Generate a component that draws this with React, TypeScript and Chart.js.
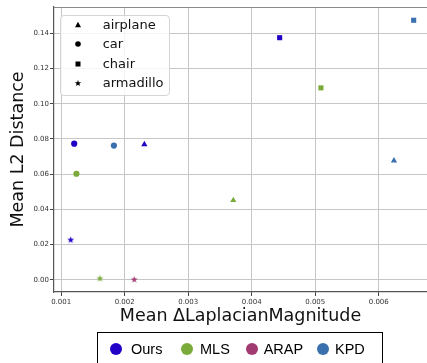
import React, { useEffect, useRef } from 'react';
import { Chart, registerables } from 'chart.js';
Chart.register(...registerables);

// Categories (marker shapes) in order: airplane, car, chair, armadillo
const categories = ['airplane', 'car', 'chair', 'armadillo'];
const methods = ['Ours', 'MLS', 'ARAP', 'KPD'];
const methodColors = ['#2300c8', '#7aab3a', '#a23a72', '#3b70ae'];

// Values per category (null = not drawn)
const oursX = [0.00231, 0.001205, 0.00444, 0.00115];
const oursY = [0.0769, 0.0773, 0.1375, 0.0227];
const mlsX = [0.00371, 0.00124, 0.00509, 0.00161];
const mlsY = [0.0451, 0.0602, 0.109, 0.0008];
const arapX = [null, null, null, 0.00215];
const arapY = [null, null, null, 0.0002];
const kpdX = [0.00624, 0.00183, 0.00655, null];
const kpdY = [0.0676, 0.0762, 0.1474, null];

const xTicks = [0.001, 0.002, 0.003, 0.004, 0.005, 0.006];
const yTicks = [0.0, 0.02, 0.04, 0.06, 0.08, 0.1, 0.12, 0.14];

const seriesX = [oursX, mlsX, arapX, kpdX];
const seriesY = [oursY, mlsY, arapY, kpdY];

function makeStar(color: string, size = 9) {
  const c = document.createElement('canvas');
  c.width = size;
  c.height = size;
  const ctx = c.getContext('2d')!;
  const cx = size / 2, cy = size / 2 + 0.3;
  const R = 3.6, r = 1.5;
  ctx.beginPath();
  for (let i = 0; i < 10; i++) {
    const ang = -Math.PI / 2 + (i * Math.PI) / 5;
    const rad = i % 2 === 0 ? R : r;
    const px = cx + rad * Math.cos(ang);
    const py = cy + rad * Math.sin(ang);
    if (i === 0) ctx.moveTo(px, py);
    else ctx.lineTo(px, py);
  }
  ctx.closePath();
  ctx.fillStyle = color;
  ctx.fill();
  return c;
}

const FONT = "'DejaVu Sans', sans-serif";

function Marker({ kind }: { kind: number }) {
  const s = 10;
  let shape: any = null;
  if (kind === 0) shape = <polygon points="5,1.8 8,7.2 2,7.2" fill="#000" />;
  if (kind === 1) shape = <circle cx="5" cy="5" r="2.8" fill="#000" />;
  if (kind === 2) shape = <rect x="2.5" y="2.5" width="5" height="5" fill="#000" />;
  if (kind === 3) {
    const pts: string[] = [];
    for (let i = 0; i < 10; i++) {
      const ang = -Math.PI / 2 + (i * Math.PI) / 5;
      const rad = i % 2 === 0 ? 3.4 : 1.45;
      pts.push(`${(5 + rad * Math.cos(ang)).toFixed(2)},${(5.3 + rad * Math.sin(ang)).toFixed(2)}`);
    }
    shape = <polygon points={pts.join(' ')} fill="#000" />;
  }
  return (
    <svg width={s} height={s} style={{ position: 'absolute', left: 12.7, top: -5 }}>
      {shape}
    </svg>
  );
}

export default function App() {
  const ref = useRef<HTMLCanvasElement>(null);
  useEffect(() => {
    const stars = methodColors.map((c) => makeStar(c, 9));
    const datasets = methods.map((m, mi) => {
      const data: any[] = [];
      categories.forEach((_, ci) => {
        const x = seriesX[mi][ci];
        const y = seriesY[mi][ci];
        if (x !== null && y !== null) data.push({ x, y, c: ci });
      });
      return {
        label: m,
        data,
        backgroundColor: methodColors[mi],
        borderColor: methodColors[mi],
        borderWidth: 0,
        pointBorderWidth: 0,
        pointStyle: (ctx: any) => {
          const ci = ctx.raw ? ctx.raw.c : 1;
          return ci === 0 ? 'triangle' : ci === 1 ? 'circle' : ci === 2 ? 'rect' : stars[mi];
        },
        pointRadius: (ctx: any) => {
          const ci = ctx.raw ? ctx.raw.c : 1;
          return ci === 0 ? 3.6 : ci === 1 ? 3.1 : 3.6;
        },
        showLine: false,
      };
    });

    const frame = {
      id: 'frame',
      afterDraw(chart: any) {
        const { ctx, chartArea: a } = chart;
        ctx.save();
        ctx.strokeStyle = '#8a8a8a';
        ctx.lineWidth = 1.2;
        ctx.beginPath();
        ctx.moveTo(a.left, a.top + 0.5);
        ctx.lineTo(a.right, a.top + 0.5);
        ctx.stroke();
        ctx.restore();
      },
    };

    const chart = new Chart(ref.current!, {
      type: 'scatter',
      data: { datasets } as any,
      options: {
        animation: false,
        responsive: true,
        maintainAspectRatio: false,
        layout: { padding: { top: 7, right: 0, left: 0, bottom: 0 } },
        plugins: { legend: { display: false }, tooltip: { enabled: false } },
        scales: {
          x: {
            type: 'linear',
            min: 0.000887,
            max: 0.00676,
            afterFit: (s: any) => { s.height = 71; },
            afterBuildTicks: (s: any) => { s.ticks = xTicks.map((v) => ({ value: v })); },
            ticks: {
              font: { family: FONT, size: 7 },
              color: '#333',
              padding: 1.5,
              maxRotation: 0,
              autoSkip: false,
              callback: (v: any) => Number(v).toFixed(3),
            },
            grid: { color: '#c6c6c6', lineWidth: 1, tickLength: 4, tickColor: '#444' },
            border: { color: '#555', width: 1.2 },
            title: {
              display: true,
              text: 'Mean ΔLaplacianMagnitude',
              font: { family: FONT, size: 17.5 },
              color: '#111',
              padding: { top: 0, bottom: 36.5 },
            },
          },
          y: {
            type: 'linear',
            min: -0.00699,
            max: 0.15494,
            afterFit: (s: any) => { s.width = 54; },
            afterBuildTicks: (s: any) => { s.ticks = yTicks.map((v) => ({ value: v })); },
            ticks: {
              font: { family: FONT, size: 7 },
              color: '#333',
              padding: 1,
              autoSkip: false,
              callback: (v: any) => Number(v).toFixed(2),
            },
            grid: { color: '#c6c6c6', lineWidth: 1, tickLength: 4, tickColor: '#444' },
            border: { color: '#555', width: 1.2 },
            title: {
              display: true,
              text: 'Mean L2 Distance',
              font: { family: FONT, size: 17.5 },
              color: '#111',
              padding: { top: 8, bottom: 0 },
            },
          },
        },
      },
      plugins: [frame],
    });
    return () => chart.destroy();
  }, []);

  const rowTops = [25, 44, 63.5, 82.7];
  const legendItems = [
    { x: 116, tx: 131 },
    { x: 186.7, tx: 200 },
    { x: 251.7, tx: 263.7 },
    { x: 323.3, tx: 335 },
  ];

  return (
    <div style={{ position: 'absolute', left: 0, top: 0, width: 427, height: 363, overflow: 'hidden', background: '#fff' }}>
      <div style={{ position: 'absolute', left: 0, top: 0, width: 431, height: 363 }}>
        <canvas ref={ref} />
      </div>
      <div
        style={{
          position: 'absolute', left: 60, top: 15, width: 108, height: 79,
          border: '1px solid #d4d4d4', borderRadius: 4, background: 'rgba(255,255,255,0.8)',
        }}
      />
      {categories.map((c, i) => (
        <div key={c} style={{ position: 'absolute', left: 60, top: rowTops[i], height: 0 }}>
          <Marker kind={i} />
          <span
            style={{
              position: 'absolute', left: 42.7, top: -9, fontFamily: FONT, fontSize: 13,
              lineHeight: '18px', color: '#111', whiteSpace: 'nowrap',
            }}
          >
            {c}
          </span>
        </div>
      ))}
      <div
        style={{
          position: 'absolute', left: 97, top: 332, width: 286, height: 50,
          border: '1px solid #000', boxSizing: 'border-box',
        }}
      />
      {methods.map((m, i) => (
        <React.Fragment key={m}>
          <div
            style={{
              position: 'absolute', left: legendItems[i].x - 6, top: 343, width: 12, height: 12,
              borderRadius: '50%', background: methodColors[i],
            }}
          />
          <span
            style={{
              position: 'absolute', left: legendItems[i].tx, top: 340, fontFamily: "'Liberation Sans', Arial, sans-serif",
              fontSize: 14.5, lineHeight: '18px', color: '#000', whiteSpace: 'nowrap',
            }}
          >
            {m}
          </span>
        </React.Fragment>
      ))}
    </div>
  );
}
